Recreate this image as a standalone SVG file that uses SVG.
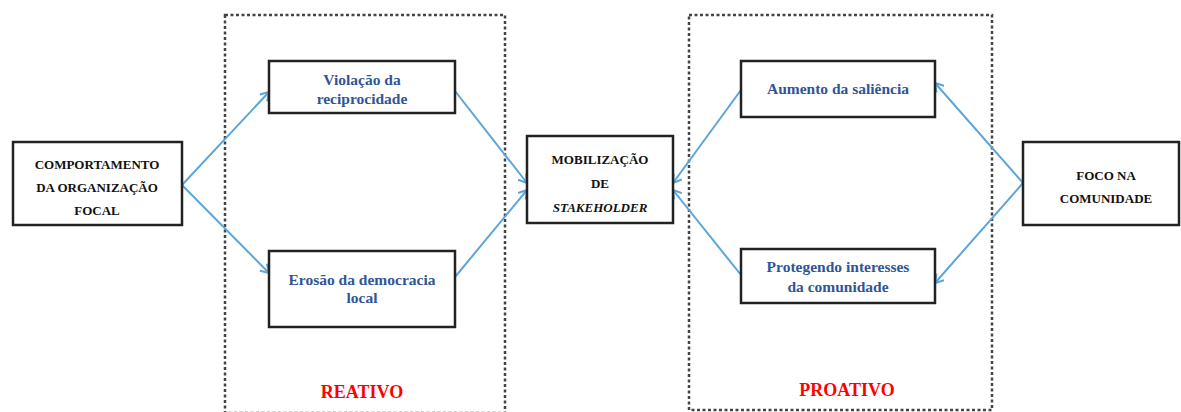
<svg xmlns="http://www.w3.org/2000/svg" width="1181" height="412" viewBox="0 0 1181 412">
<style>
.box{fill:#fff;stroke:#222;stroke-width:2.5}
.zone{fill:none;stroke:#444;stroke-width:2.5;stroke-dasharray:3 2.5}
text{font-family:"Liberation Serif","Times New Roman","DejaVu Serif",serif;font-weight:bold;text-anchor:middle}
.dk{font-size:13px;fill:#111}
.bl{font-size:15.5px;fill:#2F5597}
.rd{font-size:18px;fill:#FF0000}
.c{stroke:#5BA5D8;stroke-width:2;fill:none;marker-end:url(#ah)}
</style>
<defs>
<marker id="ah" markerWidth="12" markerHeight="12" refX="10" refY="6" orient="auto" markerUnits="userSpaceOnUse">
<path d="M2,1 L10,6 L2,11" fill="none" stroke="#5BA5D8" stroke-width="2"/>
</marker>
</defs>
<rect width="1181" height="412" fill="#fff"/>
<g id="zone-reativo">
<rect class="zone" x="225" y="15" width="280" height="398"/>
<text class="rd" x="362" y="398" font-family="Liberation Serif, serif">REATIVO</text>
</g>
<g id="zone-proativo">
<rect class="zone" x="689" y="15" width="303" height="395"/>
<text class="rd" x="847" y="396" font-family="Liberation Serif, serif">PROATIVO</text>
</g>
<g id="connectors">
<line class="c" x1="182" y1="185" x2="269" y2="92"/>
<line class="c" x1="182" y1="185" x2="269" y2="273"/>
<line class="c" x1="455" y1="91" x2="527" y2="183"/>
<line class="c" x1="455" y1="277" x2="527" y2="190"/>
<line class="c" x1="741" y1="90" x2="673" y2="183"/>
<line class="c" x1="741" y1="275" x2="673" y2="190"/>
<line class="c" x1="1023" y1="183" x2="935" y2="83"/>
<line class="c" x1="1023" y1="183" x2="935" y2="283"/>
</g>
<g id="comportamento">
<rect class="box" x="13" y="142" width="169" height="83"/>
<text class="dk" x="97" y="169">COMPORTAMENTO</text>
<text class="dk" x="97" y="192">DA ORGANIZAÇÃO</text>
<text class="dk" x="97" y="215">FOCAL</text>
</g>
<g id="violacao">
<rect class="box" x="269" y="61" width="186" height="52"/>
<text class="bl" x="362" y="85">Violação da</text>
<text class="bl" x="362" y="104">reciprocidade</text>
</g>
<g id="erosao">
<rect class="box" x="269" y="251" width="186" height="76"/>
<text class="bl" x="362" y="285">Erosão da democracia</text>
<text class="bl" x="362" y="303">local</text>
</g>
<g id="mobilizacao">
<rect class="box" x="527" y="136" width="146" height="87"/>
<text class="dk" x="600" y="164">MOBILIZAÇÃO</text>
<text class="dk" x="600" y="188">DE</text>
<text class="dk" x="600" y="212" font-style="italic">STAKEHOLDER</text>
</g>
<g id="aumento">
<rect class="box" x="741" y="61" width="194" height="56"/>
<text class="bl" x="838" y="94">Aumento da saliência</text>
</g>
<g id="protegendo">
<rect class="box" x="741" y="249" width="194" height="54"/>
<text class="bl" x="838" y="272">Protegendo interesses</text>
<text class="bl" x="838" y="292">da comunidade</text>
</g>
<g id="foco">
<rect class="box" x="1023" y="142" width="156" height="83"/>
<text class="dk" x="1106" y="180">FOCO NA</text>
<text class="dk" x="1106" y="203">COMUNIDADE</text>
</g>
</svg>
